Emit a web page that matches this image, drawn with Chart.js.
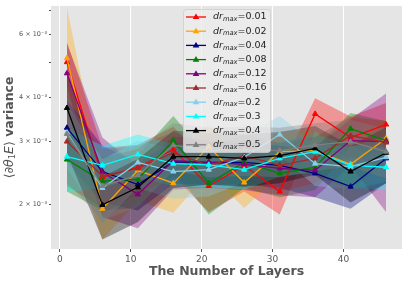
<!DOCTYPE html>
<html>
<head>
<meta charset="utf-8">
<script src="https://cdn.jsdelivr.net/npm/chart.js@4/dist/chart.umd.min.js"></script>
<style>
  html, body { margin: 0; padding: 0; background: #fff; }
  #wrap { width: 407px; height: 283px; position: relative; }
</style>
</head>
<body>
<div id="wrap"><canvas id="varChart"></canvas></div>
<script>
// 層数ごとの勾配分散（単位: ×10^-3）
const layers = [1, 6, 11, 16, 21, 26, 31, 36, 41, 46];
const drMaxLabels = ['0.01', '0.02', '0.04', '0.08', '0.12', '0.16', '0.2', '0.3', '0.4', '0.5'];

const mean001 = [5.02, 2.38, 2.54, 2.85, 2.25, 2.57, 2.17, 3.59, 3.08, 3.35];
const mean002 = [5.15, 1.94, 2.49, 2.29, 2.90, 2.30, 2.81, 2.83, 2.59, 3.06];
const mean004 = [3.28, 2.47, 2.27, 2.63, 2.62, 2.62, 2.57, 2.44, 2.24, 2.69];
const mean008 = [2.67, 2.32, 2.35, 3.02, 2.29, 2.62, 2.44, 2.54, 3.26, 3.02];
const mean012 = [4.67, 2.46, 2.13, 2.65, 2.62, 2.59, 2.52, 2.49, 3.02, 3.00];
const mean016 = [3.00, 2.40, 2.52, 2.79, 2.57, 2.74, 2.57, 2.69, 3.12, 2.98];
const mean02  = [3.18, 2.22, 2.62, 2.47, 2.50, 2.71, 3.14, 2.60, 2.55, 2.71];
const mean03  = [2.72, 2.57, 2.76, 2.60, 2.58, 2.50, 2.69, 2.81, 2.57, 2.54];
const mean04  = [3.73, 1.99, 2.23, 2.72, 2.72, 2.69, 2.74, 2.87, 2.47, 2.79];
const mean05  = [3.15, 2.25, 2.41, 2.93, 2.83, 2.85, 2.83, 2.93, 3.00, 2.81];

// 標準偏差（帯の幅）
const std001 = [0.70, 0.50, 0.40, 0.45, 0.35, 0.40, 0.30, 0.38, 0.45, 0.50];
const std002 = [2.00, 0.35, 0.45, 0.40, 0.45, 0.35, 0.40, 0.40, 0.40, 0.45];
const std004 = [0.65, 0.45, 0.35, 0.35, 0.35, 0.35, 0.35, 0.35, 0.30, 0.40];
const std008 = [0.50, 0.40, 0.40, 0.52, 0.42, 0.40, 0.35, 0.35, 0.35, 0.40];
const std012 = [1.00, 0.62, 0.42, 0.45, 0.40, 0.40, 0.40, 0.40, 0.45, 1.10];
const std016 = [0.75, 0.45, 0.40, 0.40, 0.35, 0.40, 0.40, 0.40, 0.40, 0.45];
const std02  = [0.65, 0.45, 0.40, 0.40, 0.40, 0.40, 0.40, 0.35, 0.35, 0.40];
const std03  = [0.56, 0.35, 0.38, 0.35, 0.35, 0.30, 0.30, 0.35, 0.35, 0.35];
const std04  = [0.95, 0.40, 0.45, 0.50, 0.45, 0.45, 0.45, 0.45, 0.45, 0.50];
const std05  = [0.85, 0.45, 0.45, 0.45, 0.45, 0.45, 0.45, 0.45, 0.45, 0.45];

// y軸の目盛り
const yTickValues = [2, 3, 4, 5, 6, 7];
const yTickLabels = {2: '2 \u00d7 10\u207b\u00b3', 3: '3 \u00d7 10\u207b\u00b3', 4: '4 \u00d7 10\u207b\u00b3', 6: '6 \u00d7 10\u207b\u00b3'};
const xTickValues = [0, 10, 20, 30, 40];

const means = [mean001, mean002, mean004, mean008, mean012, mean016, mean02, mean03, mean04, mean05];
const stds = [std001, std002, std004, std008, std012, std016, std02, std03, std04, std05];

// 色（スタイル）
const colors = [
  [255, 0, 0], [255, 165, 0], [0, 0, 128], [0, 128, 0], [128, 0, 128],
  [165, 42, 42], [135, 206, 235], [0, 255, 255], [0, 0, 0], [128, 128, 128]
];
const rgba = (c, a) => `rgba(${c[0]}, ${c[1]}, ${c[2]}, ${a})`;

const datasets = [];
means.forEach((m, i) => {
  const s = stds[i];
  const n = means.length - 1 - i;
  // 上側の帯
  datasets.push({
    data: layers.map((x, j) => ({ x: x, y: m[j] + s[j] })),
    borderWidth: 0, pointRadius: 0, fill: '+1',
    backgroundColor: rgba(colors[i], 0.35), order: 100 + n
  });
  // 下側の帯
  datasets.push({
    data: layers.map((x, j) => ({ x: x, y: m[j] - s[j] })),
    borderWidth: 0, pointRadius: 0, fill: false, order: 100 + n
  });
  // 平均の線
  datasets.push({
    label: 'dr_max=' + drMaxLabels[i],
    data: layers.map((x, j) => ({ x: x, y: m[j] })),
    borderColor: rgba(colors[i], 1),
    backgroundColor: rgba(colors[i], 1),
    borderWidth: 1.3,
    pointStyle: 'triangle', pointRadius: 3, pointBorderWidth: 1,
    fill: false, order: n
  });
});

function drawTriangle(ctx, x, y, r) {
  ctx.beginPath();
  ctx.moveTo(x, y - r);
  ctx.lineTo(x + r * 0.95, y + r * 0.6);
  ctx.lineTo(x - r * 0.95, y + r * 0.6);
  ctx.closePath();
  ctx.fill();
}

// 背景・タイトル・凡例を描画するプラグイン
const decorPlugin = {
  id: 'decor',
  beforeDraw(chart) {
    const { ctx, chartArea: a } = chart;
    ctx.save();
    ctx.fillStyle = '#E5E5E5';
    ctx.fillRect(a.left, a.top, a.right - a.left, a.bottom - a.top);
    ctx.restore();
  },
  afterDraw(chart) {
    const { ctx, chartArea: a } = chart;
    ctx.save();
    // x軸タイトル
    ctx.fillStyle = '#555555';
    ctx.font = 'bold 12.5px "DejaVu Sans"';
    ctx.textAlign = 'center';
    ctx.textBaseline = 'middle';
    ctx.fillText('The Number of Layers', (a.left + a.right) / 2, 272);

    // y軸タイトル
    ctx.translate(10, (a.top + a.bottom) / 2);
    ctx.rotate(-Math.PI / 2);
    const parts = [
      { t: '\u27e8\u2202', f: '12.5px "DejaVu Sans"', dy: 0 },
      { t: '\u03b8', f: 'italic 12.5px "DejaVu Sans"', dy: 0 },
      { t: '1', f: '8.5px "DejaVu Sans"', dy: 2.5 },
      { t: 'E', f: 'italic 12.5px "DejaVu Sans"', dy: 0 },
      { t: '\u27e9', f: '12.5px "DejaVu Sans"', dy: 0 },
      { t: ' variance', f: 'bold 12.5px "DejaVu Sans"', dy: 0 }
    ];
    let total = 0;
    parts.forEach(p => { ctx.font = p.f; total += ctx.measureText(p.t).width; });
    let px = -total / 2;
    ctx.textAlign = 'left';
    parts.forEach(p => {
      ctx.font = p.f;
      ctx.fillText(p.t, px, p.dy);
      px += ctx.measureText(p.t).width;
    });
    ctx.restore();

    // 凡例
    ctx.save();
    const bx = 183, by = 9, bw = 87, bh = 143;
    ctx.fillStyle = 'rgba(236, 236, 236, 0.8)';
    ctx.strokeStyle = 'rgba(205, 205, 205, 0.8)';
    ctx.lineWidth = 1;
    ctx.beginPath();
    ctx.roundRect(bx + 0.5, by + 0.5, bw, bh, 3);
    ctx.fill();
    ctx.stroke();
    drMaxLabels.forEach((lab, i) => {
      const y = 17 + i * 14.2;
      ctx.strokeStyle = rgba(colors[i], 1);
      ctx.fillStyle = rgba(colors[i], 1);
      ctx.lineWidth = 1.3;
      ctx.beginPath();
      ctx.moveTo(186, y);
      ctx.lineTo(206, y);
      ctx.stroke();
      drawTriangle(ctx, 196, y, 3.5);
      ctx.fillStyle = '#222';
      ctx.textBaseline = 'middle';
      ctx.textAlign = 'left';
      let tx = 213;
      ctx.font = 'italic 9.5px "DejaVu Sans"';
      ctx.fillText('dr', tx, y);
      tx += ctx.measureText('dr').width;
      ctx.font = 'italic 6.7px "DejaVu Sans"';
      ctx.fillText('max', tx, y + 2.5);
      tx += ctx.measureText('max').width;
      ctx.font = '9.5px "DejaVu Sans"';
      ctx.fillText('=' + lab, tx, y);
    });
    ctx.restore();
  }
};

const ctx = document.getElementById('varChart');
new Chart(ctx, {
  type: 'line',
  data: { datasets: datasets },
  options: {
    responsive: true,
    maintainAspectRatio: false,
    animation: false,
    layout: { padding: { left: 0, right: 5, top: 5, bottom: 0 } },
    plugins: {
      legend: { display: false },
      tooltip: { enabled: false }
    },
    scales: {
      x: {
        type: 'linear',
        min: -1.25,
        max: 48.25,
        afterBuildTicks: (scale) => { scale.ticks = xTickValues.map(v => ({ value: v })); },
        afterFit: (scale) => { scale.height = 34; },
        grid: { color: '#FFFFFF', lineWidth: 1, tickColor: '#555555', tickLength: 3 },
        border: { display: false },
        ticks: {
          color: '#555555',
          font: { family: 'DejaVu Sans', size: 9 },
          padding: 2,
          maxRotation: 0
        }
      },
      y: {
        type: 'logarithmic',
        min: 1.495,
        max: 7.23,
        afterBuildTicks: (scale) => { scale.ticks = yTickValues.map(v => ({ value: v })); },
        afterFit: (scale) => { scale.width = 51; },
        grid: { drawOnChartArea: false, tickColor: '#555555', tickLength: 2 },
        border: { display: false },
        ticks: {
          color: '#555555',
          font: { family: 'DejaVu Sans', size: 6.5 },
          padding: 2,
          callback: (v) => yTickLabels[v] || ''
        }
      }
    }
  },
  plugins: [decorPlugin]
});
</script>
</body>
</html>
